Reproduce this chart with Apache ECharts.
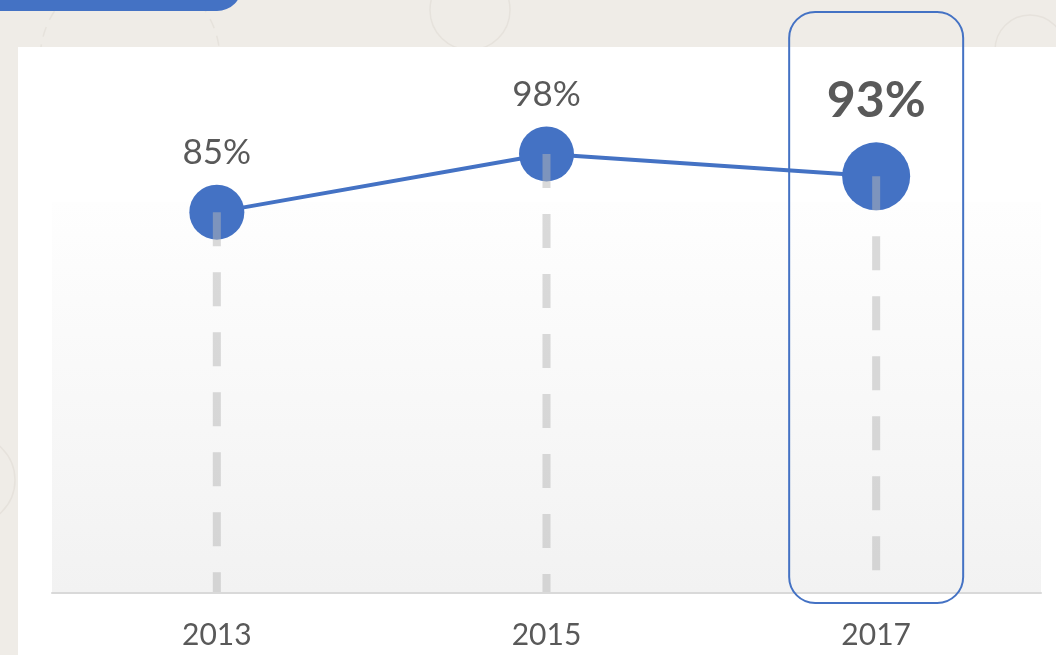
<!DOCTYPE html>
<html>
<head>
<meta charset="utf-8">
<script src="https://cdn.jsdelivr.net/npm/echarts@6/dist/echarts.min.js"></script>
<style>
  html, body { margin: 0; padding: 0; background: #efece7; }
  #main { width: 1056px; height: 655px; }
</style>
</head>
<body>
<div id="main"></div>
<script>
// 数据
var years = ['2013', '2015', '2017'];
var rates = [85, 98, 93];
var highlightYear = '2017';

var blue = '#4472c4';
var textGray = '#595959';

var chart = echarts.init(document.getElementById('main'));

var points = rates.map(function (v, i) {
  var hi = years[i] === highlightYear;
  return {
    value: v,
    symbolSize: hi ? 68 : 55,
    label: hi ? { fontSize: 50, fontWeight: 'bold', distance: 16 } : {}
  };
});

var texture = { fill: 'none', stroke: '#e6e2dc', lineWidth: 1.5 };

var option = {
  backgroundColor: '#efece7',
  animation: false,
  grid: { left: 52, right: 15, top: 145, bottom: 62.5 },
  xAxis: {
    type: 'category',
    z: 5,
    data: years,
    axisLine: { lineStyle: { color: '#d9d9d9', width: 2 } },
    axisTick: { show: false },
    axisLabel: { color: textGray, fontSize: 30, fontFamily: 'Lato', margin: 28 },
    splitLine: { show: false }
  },
  yAxis: { type: 'value', min: 0, max: 100, show: false },
  series: [
    {
      type: 'line',
      z: 2,
      data: points,
      symbol: 'circle',
      lineStyle: { color: blue, width: 4 },
      itemStyle: { color: blue },
      label: {
        show: true,
        position: 'top',
        distance: 14,
        formatter: '{c}%',
        color: textGray,
        fontSize: 35,
        fontFamily: 'Lato'
      }
    },
    {
      // 竖直虚线
      type: 'custom',
      z: 3,
      data: years.map(function (y, i) { return [y, rates[i]]; }),
      encode: { x: 0, y: 1 },
      renderItem: function (params, api) {
        var top = api.coord([api.value(0), api.value(1)]);
        var bottom = api.coord([api.value(0), 0]);
        return {
          type: 'line',
          shape: { x1: top[0], y1: top[1], x2: bottom[0], y2: bottom[1] },
          style: { stroke: 'rgba(182,182,182,0.5)', lineWidth: 8, lineDash: [34, 26] }
        };
      }
    }
  ]
};

chart.setOption(option);

// 2017 的圆角框按坐标轴定位
var cx = chart.convertToPixel({ xAxisIndex: 0 }, highlightYear);
chart.setOption({
  graphic: [
    // 背景的淡淡纹理
    { type: 'circle', z: -20, shape: { cx: 470, cy: 10, r: 40 }, style: texture },
    { type: 'circle', z: -20, shape: { cx: 130, cy: 60, r: 90 }, style: Object.assign({}, texture, { lineDash: [10, 8] }) },
    { type: 'circle', z: -20, shape: { cx: 1030, cy: 50, r: 35 }, style: texture },
    { type: 'circle', z: -20, shape: { cx: -30, cy: 480, r: 45 }, style: texture },
    // 左上角的蓝色标签
    { type: 'rect', z: -10, shape: { x: -30, y: -40, width: 272, height: 51, r: 25 }, style: { fill: blue } },
    // 白色面板
    { type: 'rect', z: -10, shape: { x: 18, y: 47, width: 1100, height: 700 }, style: { fill: '#ffffff' } },
    // 渐变区域
    {
      type: 'rect', z: -9, shape: { x: 52, y: 202, width: 989, height: 390 },
      style: {
        fill: new echarts.graphic.LinearGradient(0, 0, 0, 1, [
          { offset: 0, color: '#fefefe' },
          { offset: 1, color: '#f2f2f2' }
        ])
      }
    },
    {
      type: 'rect', z: 10,
      shape: { x: cx - 87, y: 12, width: 174, height: 591, r: 26 },
      style: { fill: 'none', stroke: blue, lineWidth: 2 }
    }
  ]
});
</script>
</body>
</html>
